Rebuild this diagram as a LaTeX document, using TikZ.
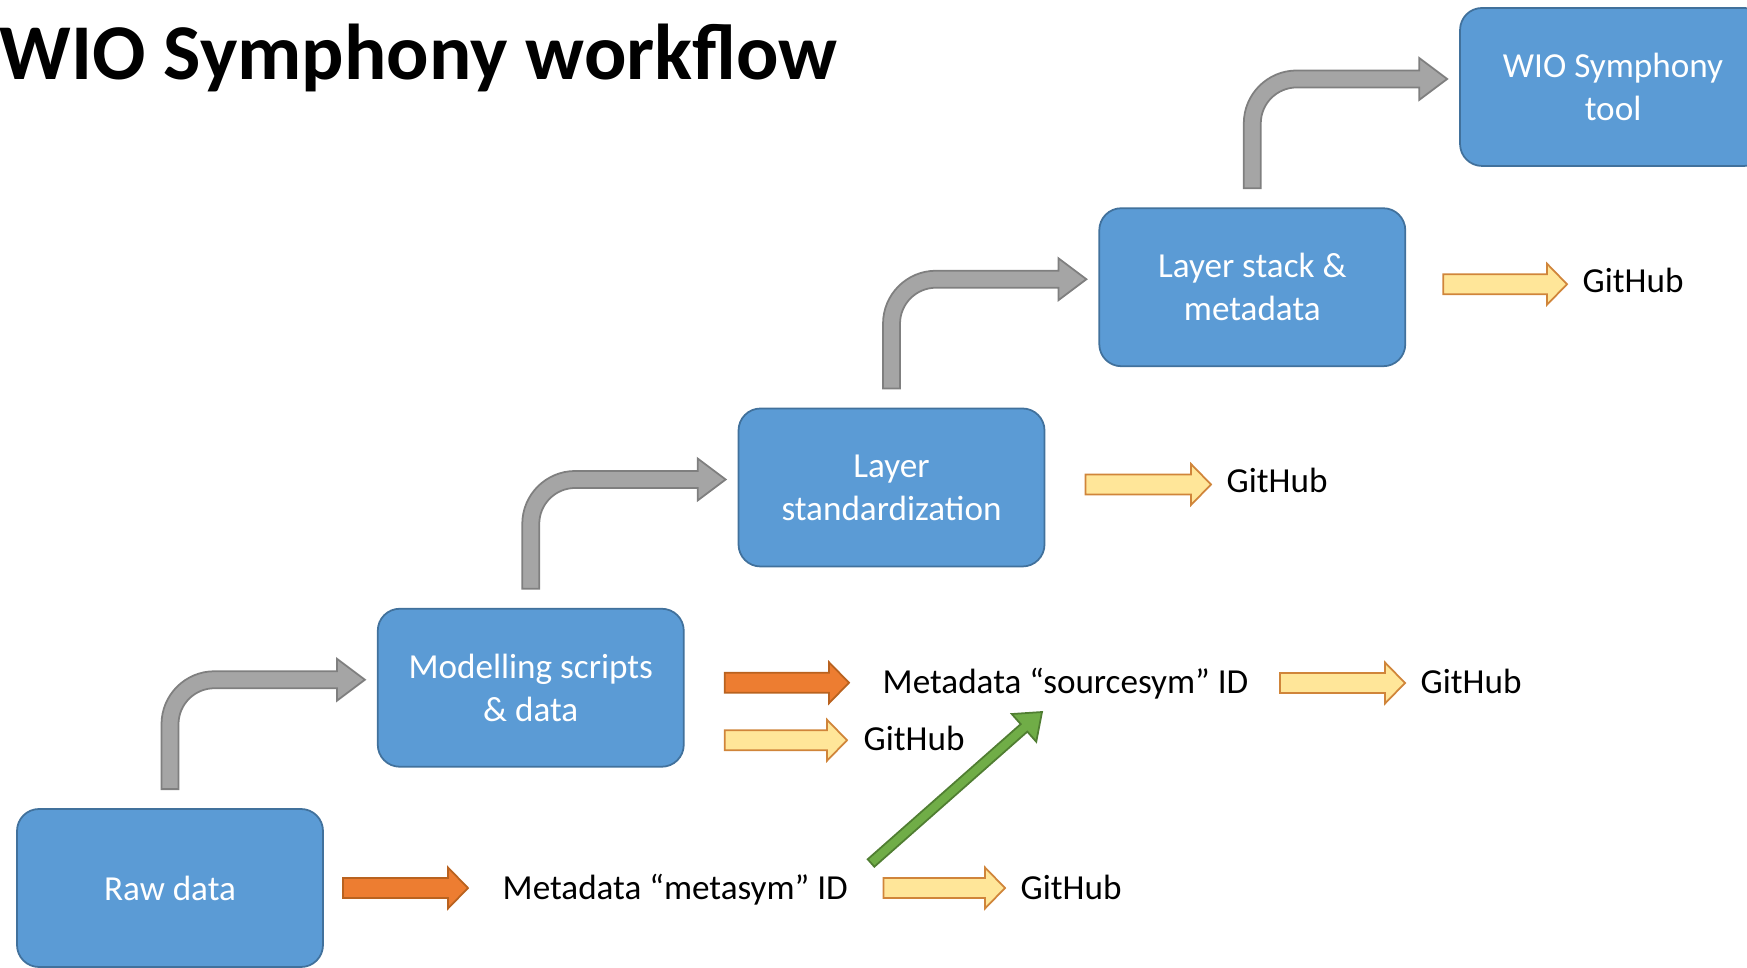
\documentclass[tikz,border=0pt]{standalone}
\usepackage{fontspec}
\setmainfont{Carlito}
\usepackage{tikz}
\usetikzlibrary{calc, positioning}

\definecolor{boxblue}{HTML}{5B9BD5}
\definecolor{boxline}{HTML}{41719C}
\definecolor{grayfill}{HTML}{A5A5A5}
\definecolor{grayline}{HTML}{7F7F7F}
\definecolor{orangefill}{HTML}{ED7D31}
\definecolor{orangeline}{HTML}{B9621F}
\definecolor{yellowfill}{HTML}{FFE699}
\definecolor{yellowline}{HTML}{D0853A}
\definecolor{greenfill}{HTML}{70AD47}
\definecolor{greenline}{HTML}{507E32}

\tikzset{
  stepbox/.style={rectangle, rounded corners=0.22cm, draw=boxline, line width=0.5pt,
    fill=boxblue, text=white, minimum width=3.06cm, minimum height=1.58cm,
    align=center, font=\fontsize{10}{12.3}\selectfont},
  txt/.style={inner sep=0pt, anchor=base west, font=\fontsize{10}{12}\selectfont},
  headline/.style={inner sep=0pt, anchor=base west, font=\fontsize{22.5}{27}\selectfont\bfseries},
  % flat block arrow, only the x of the target counts
  flatarrow/.style={line width=0.5pt, to path={
      let \p1=(\tikztostart), \p2=(\tikztotarget) in
      (\x1,\y1+0.10cm) -- (\x2-0.20cm,\y1+0.10cm) -- (\x2-0.20cm,\y1+0.205cm)
      -- (\x2,\y1) -- (\x2-0.20cm,\y1-0.205cm) -- (\x2-0.20cm,\y1-0.10cm)
      -- (\x1,\y1-0.10cm) -- cycle}},
  orangearrow/.style={flatarrow, draw=orangeline, fill=orangefill},
  yellowarrow/.style={flatarrow, draw=yellowline, fill=yellowfill},
  % up, round the corner, then right
  bentarrow/.style={draw=grayline, fill=grayfill, line width=0.5pt, to path={
      let \p1=(\tikztostart), \p2=(\tikztotarget) in
      (\x1-0.085cm,\y1) -- (\x1-0.085cm,\y2-0.445cm)
      .. controls (\x1-0.085cm,\y2-0.152cm) and (\x1+0.152cm,\y2+0.085cm) .. (\x1+0.445cm,\y2+0.085cm)
      -- (\x2-0.28cm,\y2+0.085cm) -- (\x2-0.28cm,\y2+0.21cm) -- (\x2,\y2)
      -- (\x2-0.28cm,\y2-0.21cm) -- (\x2-0.28cm,\y2-0.085cm) -- (\x1+0.445cm,\y2-0.085cm)
      .. controls (\x1+0.246cm,\y2-0.085cm) and (\x1+0.085cm,\y2-0.246cm) .. (\x1+0.085cm,\y2-0.445cm)
      -- (\x1+0.085cm,\y1) -- cycle}},
  % slanted block arrow
  greenarrow/.style={draw=greenline, fill=greenfill, line width=0.5pt, to path={
      let \p1=(\tikztostart), \p2=(\tikztotarget), \p3=($(\p2)!0.24cm!(\p1)$) in
      ($(\p1)!0.05cm!90:(\p2)$) -- ($(\p3)!0.05cm!90:(\p2)$) -- ($(\p3)!0.185cm!90:(\p2)$)
      -- (\p2) -- ($(\p3)!0.185cm!-90:(\p2)$) -- ($(\p3)!0.05cm!-90:(\p2)$)
      -- ($(\p1)!0.05cm!-90:(\p2)$) -- cycle}},
}

\begin{document}
\begin{tikzpicture}
\useasboundingbox (0,0) rectangle (17.47,-9.68);

\node [headline] (head) at (-0.01,-0.80) {WIO Symphony workflow};

% the steps
\node [stepbox] (raw) at (1.70,-8.88) {Raw data};
\node [stepbox, above right=0.405cm and 0.53cm of raw] (model) {Modelling scripts\\\& data};
\node [stepbox, above right=0.405cm and 0.53cm of model] (std) {Layer\\standardization};
\node [stepbox, above right=0.405cm and 0.53cm of std] (stack) {Layer stack \&\\metadata};
\node [stepbox, above right=0.405cm and 0.53cm of stack] (tool) {WIO Symphony\\tool};

\draw [bentarrow] ([yshift=0.19cm]raw.north) to ([xshift=-0.12cm,yshift=0.08cm]model.west);
\draw [bentarrow] ([yshift=0.19cm]model.north) to ([xshift=-0.12cm,yshift=0.08cm]std.west);
\draw [bentarrow] ([yshift=0.19cm]std.north) to ([xshift=-0.12cm,yshift=0.08cm]stack.west);
\draw [bentarrow] ([yshift=0.19cm]stack.north) to ([xshift=-0.12cm,yshift=0.08cm]tool.west);

% ids and repositories
\node [txt] (meta) at (5.02,-8.99) {Metadata “metasym” ID};
\node [txt] (src) at (8.82,-6.93) {Metadata “sourcesym” ID};
\node [txt] (ghmeta) at (10.20,-8.99) {GitHub};
\node [txt] (ghmodel) at (8.63,-7.50) {GitHub};
\node [txt] (ghsrc) at (14.20,-6.93) {GitHub};
\node [txt] (ghstd) at (12.26,-4.93) {GitHub};
\node [txt] (ghstack) at (15.82,-2.93) {GitHub};

\draw [orangearrow] ([xshift=0.19cm]raw.east) to ([xshift=-0.34cm]meta.west);
\draw [orangearrow] ([xshift=0.40cm,yshift=0.05cm]model.east) to ([xshift=-0.33cm]src.west);

\draw [yellowarrow] ([xshift=0.40cm,yshift=-0.525cm]model.east) to ([xshift=-0.16cm]ghmodel.west);
\draw [yellowarrow] ([xshift=0.35cm,yshift=0.11cm]meta.base east) to ([xshift=-0.15cm]ghmeta.west);
\draw [yellowarrow] ([xshift=0.31cm,yshift=0.10cm]src.base east) to ([xshift=-0.15cm]ghsrc.west);
\draw [yellowarrow] ([xshift=0.40cm,yshift=0.03cm]std.east) to ([xshift=-0.15cm]ghstd.west);
\draw [yellowarrow] ([xshift=0.37cm,yshift=0.03cm]stack.east) to ([xshift=-0.15cm]ghstack.west);

\coordinate (gtail) at (8.71,-8.63);
\coordinate (ghead) at (10.42,-7.12);
\draw [greenarrow] (gtail) to (ghead);
\end{tikzpicture}
\end{document}
